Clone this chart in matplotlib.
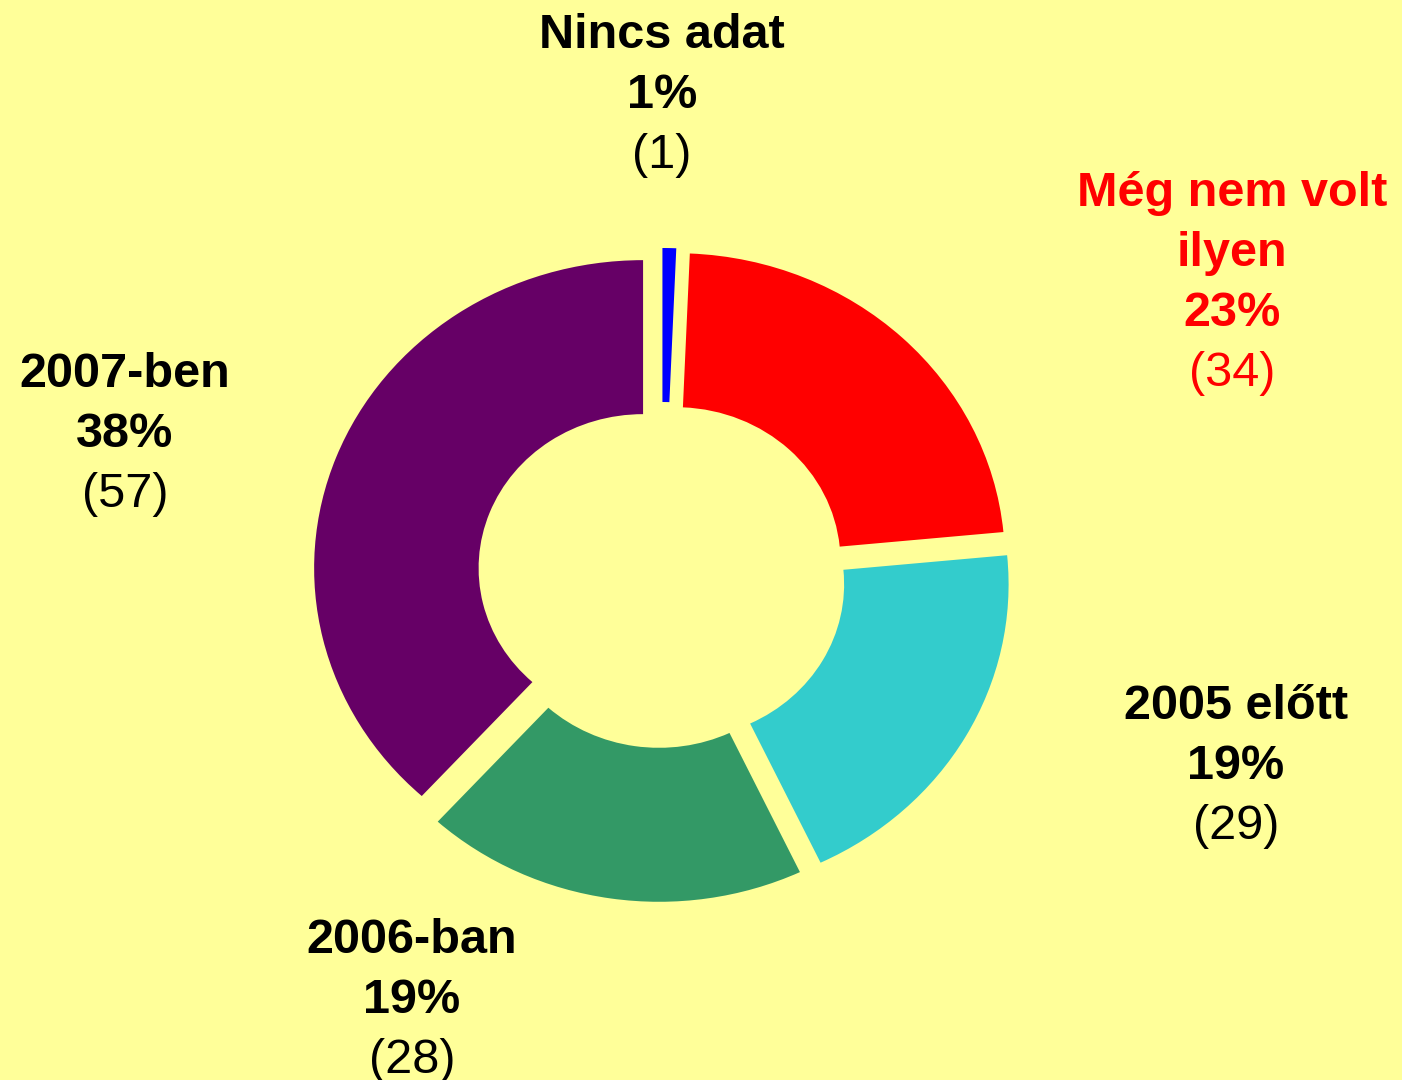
import matplotlib
matplotlib.use("Agg")
import matplotlib.pyplot as plt

# ---- data ----
categories = ["Nincs adat", "Még nem volt\nilyen", "2005 előtt", "2006-ban", "2007-ben"]
counts = [1, 34, 29, 28, 57]
colors = ["#0000FF", "#FF0000", "#33CCCC", "#339966", "#660066"]
label_colors = ["black", "#FF0000", "black", "black", "black"]

# ---- layout (pixel positions of label blocks: center x, first baseline y) ----
W, H = 1402, 1080
label_pos = [(662, 48), (1232, 206), (1236, 719), (412, 953), (125, 387)]
line_step = 60
sx = 1.068           # horizontal stretch of the drawing
center_px = (662, 575)
radius = 308
explode_d = 19

plt.rcParams['font.family'] = ['Liberation Sans', 'DejaVu Sans']

fig = plt.figure(figsize=(W / 100, H / 100), dpi=100)
fig.patch.set_facecolor("#FFFF99")
ax = fig.add_axes([0, 0, 1, 1])
ax.set_facecolor("#FFFF99")

ax.pie(counts, colors=colors, startangle=90, counterclock=False,
       explode=[explode_d] * len(counts), radius=radius,
       center=(center_px[0] / sx, H - center_px[1]),
       wedgeprops=dict(width=radius * 0.5, linewidth=0), frame=False)
ax.set_aspect('auto')
ax.set_xlim(0, W / sx)
ax.set_ylim(0, H)
ax.axis('off')

total = sum(counts)
fs = 35
for cat, n, (px, py), col in zip(categories, counts, label_pos, label_colors):
    lines = [(l, 'bold') for l in cat.split("\n")]
    lines.append((f"{round(100 * n / total)}%", 'bold'))
    lines.append((f"({n})", 'normal'))
    for i, (txt, wt) in enumerate(lines):
        fig.text(px / W, 1 - (py + i * line_step) / H, txt, ha='center', va='baseline',
                 fontsize=fs, fontweight=wt, color=col)

fig.savefig("out.png", dpi=100, facecolor=fig.get_facecolor())
